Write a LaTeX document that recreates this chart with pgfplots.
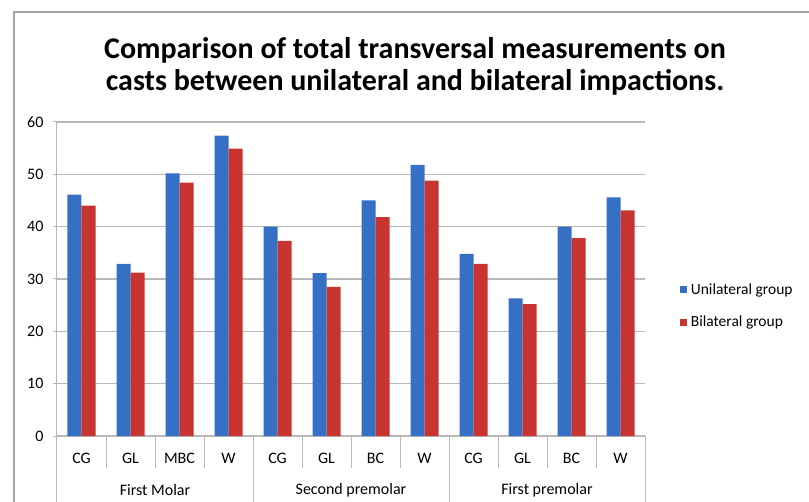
\documentclass[border=0pt]{standalone}
\usepackage{fontspec}
\setmainfont{Carlito}
\usepackage{pgfplots}
\pgfplotsset{compat=1.18}
\definecolor{uniblue}{RGB}{54,112,196}
\definecolor{bilred}{RGB}{200,52,48}
\definecolor{gridgray}{RGB}{185,185,185}
\definecolor{framegray}{RGB}{165,165,165}
\begin{document}
\begin{tikzpicture}[x=1pt,y=1pt]
\path (0,0) rectangle (809,501);
\draw[framegray, line width=1.8pt] (14,-20) -- (14,489) -- (830,489);
\node[align=center, font=\bfseries\fontsize{30}{32}\selectfont] at (415,435) {Comparison of total transversal measurements on\\casts between unilateral and bilateral impactions.};
\begin{axis}[
  at={(57pt,65pt)}, anchor=south west,
  scale only axis, width=588pt, height=314pt,
  clip=false,
  ybar=0pt, bar width=14pt,
  xmin=-0.5, xmax=11.5, ymin=0, ymax=60,
  axis x line=bottom, axis y line=left,
  axis line style={-, gridgray, line width=1pt},
  ytick={0,10,...,60},
  ymajorgrids, grid style={gridgray, line width=1.2pt},
  tick align=outside,
  ytick style={gridgray, line width=1pt},
  major tick length=4pt,
  xtick={0,...,11},
  xticklabels={CG,GL,MBC,W,CG,GL,BC,W,CG,GL,BC,W},
  xtick style={draw=none},
  xticklabel style={font=\fontsize{16}{18}\selectfont, yshift=-10pt},
  yticklabel style={font=\fontsize{16}{18}\selectfont, xshift=-6pt},
  /pgf/number format/assume math mode=true,
  legend style={at={(1.059,0.414)}, anchor=west, draw=none, fill=none,
    font=\fontsize{15.5}{17}\selectfont, row sep=16pt, inner sep=0pt,
    nodes={inner xsep=4pt}},
  legend cell align=left,
  legend image code/.code={\fill[#1] (0pt,-3.5pt) rectangle (7pt,3.5pt);},
]
\addplot[fill=uniblue, draw=none] coordinates {
(0,46.1) (1,32.9) (2,50.2) (3,57.4) (4,40.0) (5,31.1) (6,45.0) (7,51.8) (8,34.8) (9,26.3) (10,40.0) (11,45.6)};
\addplot[fill=bilred, draw=none] coordinates {
(0,44.0) (1,31.2) (2,48.4) (3,54.9) (4,37.3) (5,28.5) (6,41.8) (7,48.8) (8,32.9) (9,25.2) (10,37.8) (11,43.1)};
\legend{Unilateral group, Bilateral group}
\pgfplotsinvokeforeach{0.5,1.5,2.5,4.5,5.5,6.5,8.5,9.5,10.5}{
  \draw[gridgray, line width=1pt] (axis cs:#1,0) -- ++(0pt,-32pt);
}
\pgfplotsinvokeforeach{-0.5,3.5,7.5,11.5}{
  \draw[gridgray, line width=1pt] (axis cs:#1,0) -- ++(0pt,-90pt);
}
\node[font=\fontsize{16}{18}\selectfont] at (axis cs:1.5,0) [yshift=-54pt] {First Molar};
\node[font=\fontsize{16}{18}\selectfont] at (axis cs:5.5,0) [yshift=-54pt] {Second premolar};
\node[font=\fontsize{16}{18}\selectfont] at (axis cs:9.5,0) [yshift=-54pt] {First premolar};
\end{axis}
\pgfresetboundingbox
\path[use as bounding box] (0,0) rectangle (809,501);
\end{tikzpicture}
\end{document}
